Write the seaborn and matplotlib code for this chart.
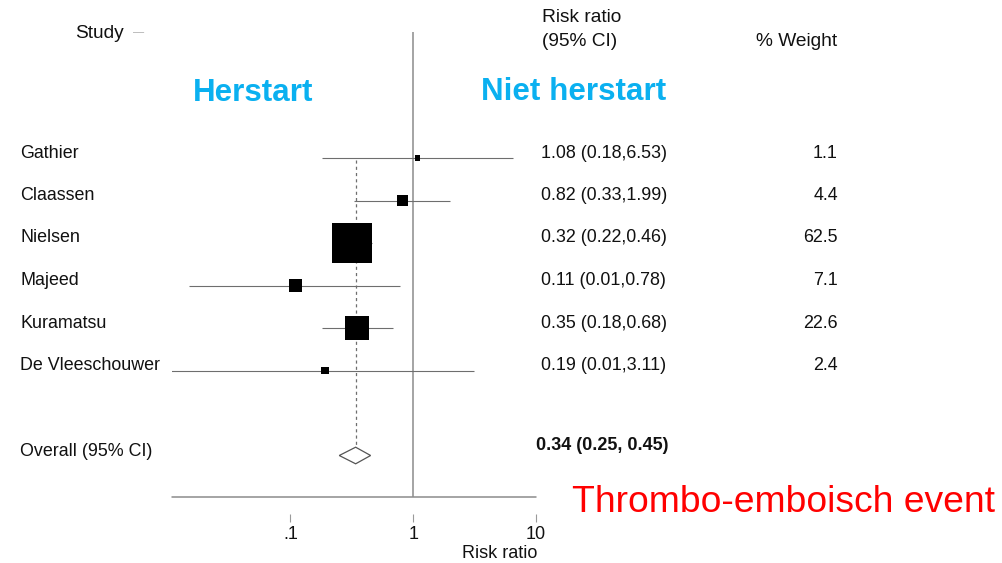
import numpy as np
import pandas as pd
import matplotlib
matplotlib.use("Agg")
import matplotlib.pyplot as plt
import matplotlib.transforms as mtransforms
import seaborn as sns

# ---------------- data ----------------
studies = ["Gathier", "Claassen", "Nielsen", "Majeed", "Kuramatsu", "De Vleeschouwer"]
rr = [1.08, 0.82, 0.32, 0.11, 0.35, 0.19]
ci_low = [0.18, 0.33, 0.22, 0.0149, 0.18, 0.01]
ci_high = [6.53, 1.99, 0.46, 0.78, 0.68, 3.11]
weights = [1.1, 4.4, 62.5, 7.1, 22.6, 2.4]
overall_rr = 0.34
overall_low = 0.25
overall_high = 0.45
tick_values = [0.1, 1, 10]
tick_labels = [".1", "1", "10"]

# ---------------- style ----------------
sns.set_theme(style="white")
plt.rcParams["font.family"] = ["Liberation Sans", "DejaVu Sans"]

W, H = 1002, 563
fig = plt.figure(figsize=(W / 100, H / 100), dpi=100)

def fx(px):
    return px / W

def fy(py):
    return 1 - py / H

# forest axes: x 172..536 px, y 32..497 px
ax = fig.add_axes([fx(172), fy(497), fx(536) - fx(172), fy(32) - fy(497)])
ax.set_xscale("log")
ax.set_xlim(10 ** (-1.964), 10)
row_px0, row_step = 158.0, 42.5
ax.set_ylim((497 - row_px0) / row_step, (32 - row_px0) / row_step)

rows = np.arange(len(studies))
overall_row = 7
text_off = -5 / row_step

df = pd.DataFrame({"study": studies, "rr": rr, "lo": ci_low, "hi": ci_high,
                   "weight": weights, "row": rows})

# CI lines
ax.hlines(df["row"], df["lo"], df["hi"], color="#6e6e6e", lw=0.8, zorder=2)

# reference line at 1
ax.axvline(1, color="#8c8c8c", lw=1.1, zorder=1)

# overall dashed line
hh = 8.3 / row_step
ax.plot([overall_rr, overall_rr], [0.05, overall_row - hh], color="#6e6e6e",
        lw=0.9, ls=(0, (2.5, 2.5)), zorder=1)

# weight squares (area proportional to weight)
side_max_pt = 40 * 0.72
sns.scatterplot(data=df, x="rr", y="row", size="weight", sizes=(0, side_max_pt ** 2),
                size_norm=(0, max(weights)), marker="s", color="black", linewidth=0,
                legend=False, ax=ax, zorder=3)

# overall diamond
ax.fill([overall_low, overall_rr, overall_high, overall_rr],
        [overall_row, overall_row - hh, overall_row, overall_row + hh],
        facecolor="white", edgecolor="#555555", lw=0.9, zorder=3)

# axis line + detached ticks
ax.plot([0, 1], [0, 0], transform=ax.transAxes, color="#8c8c8c", lw=1.1, clip_on=False)
for s in ax.spines.values():
    s.set_visible(False)
ax.spines["bottom"].set_position(("outward", 17 * 0.72))
ax.set_xticks(tick_values)
ax.set_xticklabels(tick_labels)
ax.xaxis.set_minor_locator(matplotlib.ticker.NullLocator())
ax.tick_params(axis="x", which="major", bottom=True, direction="out", length=8 * 0.72,
               width=0.8, color="#9a9a9a", pad=3.2, labelsize=13, labelcolor="#111111")
ax.set_yticks([])
ax.set_xlabel("")
ax.set_ylabel("")

# ---------------- texts ----------------
tr = mtransforms.blended_transform_factory(fig.transFigure, ax.transData)
txt = "#111111"
for i, r in df.iterrows():
    y = r["row"] + text_off
    ax.text(fx(20), y, r["study"], transform=tr, ha="left", va="center",
            fontsize=12.9, color=txt)
    ax.text(fx(541), y, f"{r['rr']:.2f} ({r['lo']:.2f},{r['hi']:.2f})",
            transform=tr, ha="left", va="center", fontsize=12.9, color=txt)
    ax.text(fx(838), y, f"{r['weight']:.1f}", transform=tr, ha="right",
            va="center", fontsize=12.9, color=txt)

ax.text(fx(20), overall_row - 4 / row_step, "Overall (95% CI)", transform=tr, ha="left",
        va="center", fontsize=12.9, color=txt)
ax.text(fx(536), overall_row - 10.5 / row_step,
        f"{overall_rr:.2f} ({overall_low:.2f}, {overall_high:.2f})", transform=tr,
        ha="left", va="center", fontsize=13, fontweight="bold", color=txt)

fig.text(fx(75), fy(33), "Study", ha="left", va="center", fontsize=13.8, color=txt)
fig.text(fx(133), fy(32), "\u2014", ha="left", va="center", fontsize=8, color="#aaaaaa")
fig.text(fx(542), fy(17), "Risk ratio", ha="left", va="center", fontsize=13.8, color=txt)
fig.text(fx(542), fy(42), "(95% CI)", ha="left", va="center", fontsize=13.8, color=txt)
fig.text(fx(756), fy(42), "% Weight", ha="left", va="center", fontsize=13.8, color=txt)

fig.text(fx(537), fy(553), "Risk ratio", ha="right", va="center", fontsize=13, color=txt)

blue = "#0AB0F0"
fig.text(fx(193), fy(93), "Herstart", ha="left", va="center", fontsize=22.6,
         fontweight="bold", color=blue)
fig.text(fx(481), fy(92), "Niet herstart", ha="left", va="center", fontsize=22.6,
         fontweight="bold", color=blue)
fig.text(fx(572), fy(502), "Thrombo-emboisch event", ha="left", va="center",
         fontsize=26.8, color="#FF0000")

fig.savefig("out.png", dpi=100)
